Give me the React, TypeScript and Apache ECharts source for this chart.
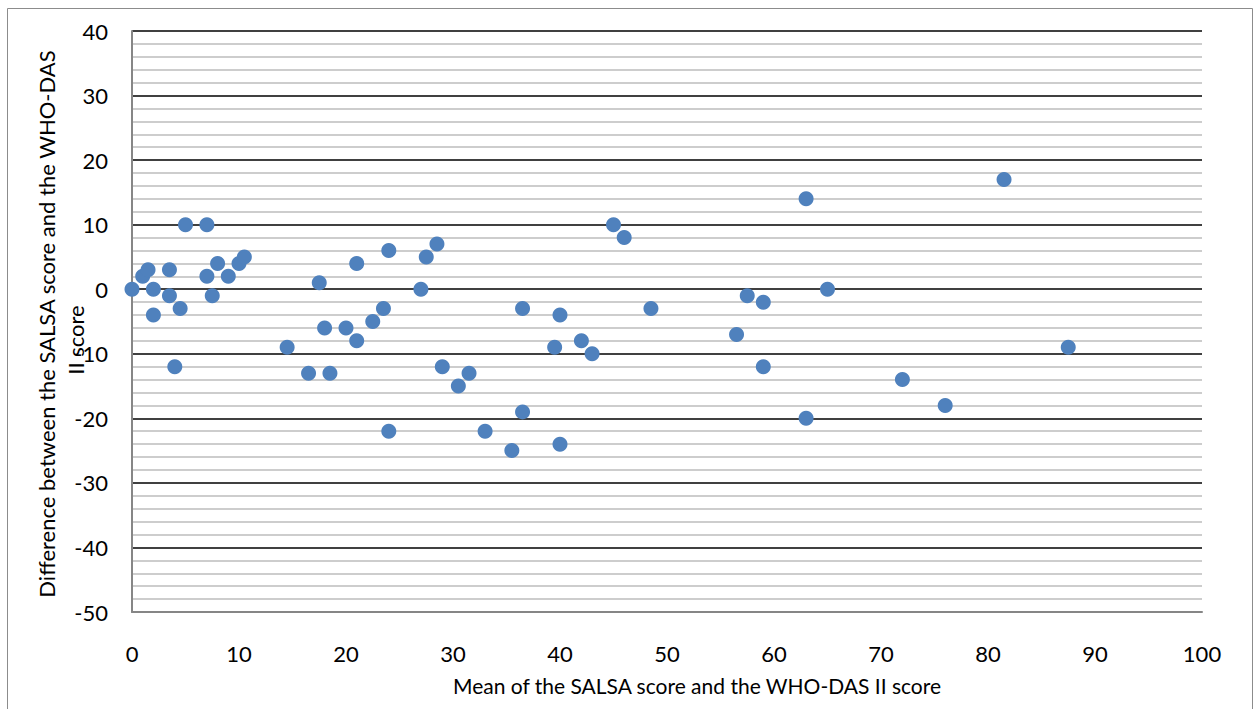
import React, { useEffect, useRef } from "react";
import * as echarts from "echarts";

// Mean of the two scores (x) and their difference (y), one entry per subject
const meanScores: number[] = [
  0, 1, 1.5, 2, 2, 3.5, 3.5, 4, 4.5, 5, 7, 7, 7.5, 8, 9, 10, 10.5,
  14.5, 16.5, 17.5, 18, 18.5, 20, 21, 21, 22.5, 23.5, 24, 24, 27, 27.5, 28.5,
  29, 30.5, 31.5, 33, 35.5, 36.5, 36.5, 39.5, 40, 40, 42, 43, 45, 46, 48.5,
  56.5, 57.5, 59, 59, 63, 63, 65, 72, 76, 81.5, 87.5,
];
const differences: number[] = [
  0, 2, 3, 0, -4, 3, -1, -12, -3, 10, 10, 2, -1, 4, 2, 4, 5,
  -9, -13, 1, -6, -13, -6, 4, -8, -5, -3, 6, -22, 0, 5, 7,
  -12, -15, -13, -22, -25, -3, -19, -9, -4, -24, -8, -10, 10, 8, -3,
  -7, -1, -2, -12, 14, -20, 0, -14, -18, 17, -9,
];

const xTitle = "Mean of the SALSA score and the WHO-DAS II score";
const yTitleLine1 = "Difference between the SALSA score and the WHO-DAS";
const yTitleLine2 = "II score";

const FONT = "Lato, 'Open Sans', sans-serif";

export default function App() {
  const ref = useRef<HTMLDivElement>(null);

  useEffect(() => {
    if (!ref.current) return;
    const chart = echarts.init(ref.current, undefined, { renderer: "svg" });
    const points = meanScores.map((m, i) => [m, differences[i]]);

    chart.setOption({
      animation: false,
      backgroundColor: "#ffffff",
      grid: { left: 132, right: 53, top: 31, bottom: 97 },
      xAxis: {
        type: "value",
        min: 0,
        max: 100,
        interval: 10,
        axisLine: { show: true, onZero: false, lineStyle: { color: "#868686", width: 2 } },
        axisTick: { show: false },
        splitLine: { show: false },
        axisLabel: { color: "#000", fontFamily: FONT, fontSize: 22, margin: 30 },
      },
      yAxis: {
        type: "value",
        min: -50,
        max: 40,
        interval: 10,
        axisLine: { show: true, onZero: false, lineStyle: { color: "#868686", width: 2 } },
        axisTick: { show: false },
        splitLine: { show: true, lineStyle: { color: "#000", width: 1.6 } },
        minorTick: { show: false, splitNumber: 5 },
        minorSplitLine: { show: true, lineStyle: { color: "#bdbdbd", width: 1.6 } },
        axisLabel: { color: "#000", fontFamily: FONT, fontSize: 22, margin: 24 },
      },
      series: [
        {
          type: "scatter",
          data: points,
          symbol: "circle",
          symbolSize: 15,
          itemStyle: { color: "#4F81BD", opacity: 1 },
          z: 5,
        },
      ],
      graphic: [
        {
          type: "rect",
          shape: { x: 7.5, y: 8.5, width: 1245, height: 720 },
          style: { fill: "none", stroke: "#8c8c8c", lineWidth: 1 },
          silent: true,
        },
        {
          type: "text",
          x: 697,
          y: 685,
          style: {
            text: xTitle,
            font: `21px ${FONT}`,
            fill: "#000",
            align: "center",
            verticalAlign: "middle",
          },
        },
        {
          type: "text",
          x: 46,
          y: 324,
          rotation: Math.PI / 2,
          style: {
            text: yTitleLine1,
            font: `22px ${FONT}`,
            fill: "#000",
            align: "center",
            verticalAlign: "middle",
          },
        },
        {
          type: "text",
          x: 75,
          y: 340,
          rotation: Math.PI / 2,
          style: {
            text: yTitleLine2,
            font: `22px ${FONT}`,
            fill: "#000",
            align: "center",
            verticalAlign: "middle",
          },
        },
      ],
    });

    return () => chart.dispose();
  }, []);

  return (
    <div
      ref={ref}
      style={{ position: "fixed", left: 0, top: 0, width: 1255, height: 709 }}
    />
  );
}
